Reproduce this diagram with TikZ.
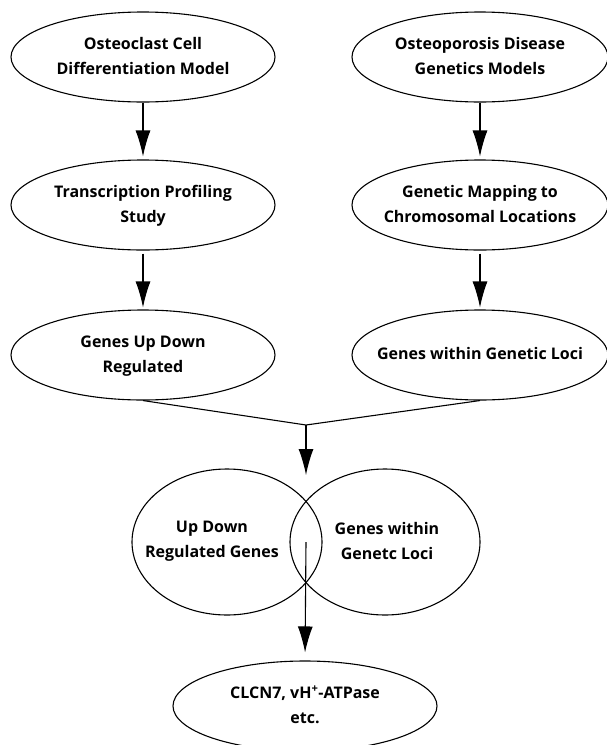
\documentclass[tikz,border=0pt]{standalone}
\usepackage{fontspec}
\setmainfont{Open Sans}
\usetikzlibrary{shapes.geometric,arrows.meta}

% centred multi-line label that does not widen its ellipse
\newcommand\ellabel[1]{\hbox to 0pt{\hss\begin{tabular}{@{}c@{}}#1\end{tabular}\hss}}

\begin{document}
\begin{tikzpicture}[x=1pt,y=-1pt,
  lbl/.style={font=\bfseries\fontsize{16}{24.5}\selectfont},
  oval/.style={ellipse,draw,line width=1.1pt,inner sep=0pt,
    minimum width=264pt,minimum height=90pt,lbl},
  venn/.style={ellipse,draw,line width=1.1pt,inner sep=0pt,
    minimum width=190pt,minimum height=146pt},
  flow/.style={line width=1.1pt,-{Latex[length=26pt,width=15pt]}},
  link/.style={line width=1.1pt}]
\useasboundingbox (0,0) rectangle (607,745);

% left column
\node[oval] (cell) at (143,57) {\ellabel{Osteoclast Cell\\Differentiation Model}};
\node[oval] (prof) at (143,205) {\ellabel{Transcription Profiling\\Study}};
\node[oval] (updn) at (143,355) {\ellabel{Genes Up Down\\Regulated}};

% right column
\node[oval,minimum width=256pt] (osteo) at (480,57) {\ellabel{Osteoporosis Disease\\Genetics Models}};
\node[oval,minimum width=256pt] (map) at (480,205) {\ellabel{Genetic Mapping to\\Chromosomal Locations}};
\node[oval,minimum width=256pt] (loci) at (480,355) {\ellabel{Genes within Genetic Loci}};

% overlap of the two gene sets
\node[venn] (setA) at (227,542) {};
\node[venn] (setB) at (385,542) {};
\node[lbl,align=center] (txtA) at (212,541) {Up Down\\Regulated Genes};
\node[lbl,align=center] (txtB) at (387,541) {Genes within\\Genetc Loci};

% result
\node[oval] (res) at (305,706) {\ellabel{CLCN7, vH\textsuperscript{+}-ATPase\\etc.}};

\coordinate (join) at (306,425);
\coordinate (tip) at (306,475);
\coordinate (core) at (306,542);

\draw[flow,shorten >=3pt] (cell) -- (prof);
\draw[flow,shorten >=3pt] (osteo) -- (map);
\draw[flow,shorten <=3pt,shorten >=2pt] (prof) -- (updn);
\draw[flow,shorten <=3pt,shorten >=2pt] (map) -- (loci);
\draw[link] (updn.south) -- (join) -- (loci.south);
\draw[flow] (join) -- (tip);
\draw[flow,shorten >=8pt] (core) -- (res.north);
\end{tikzpicture}
\end{document}
